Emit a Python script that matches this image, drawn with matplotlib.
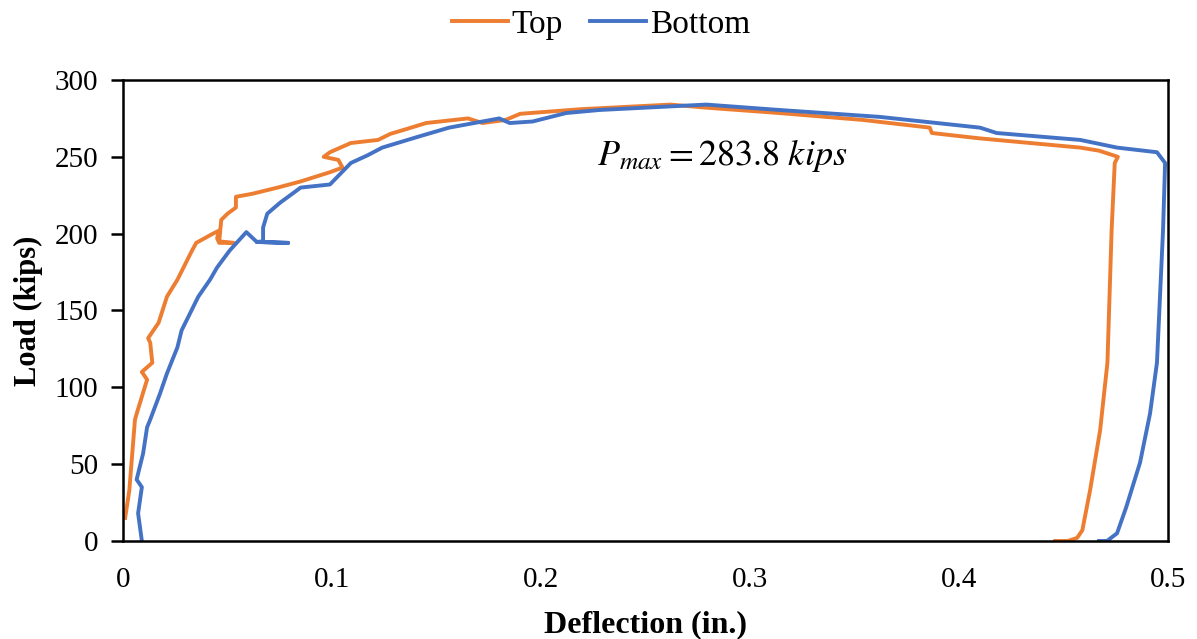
import matplotlib.pyplot as plt

plt.rcParams['font.family'] = ['Liberation Serif', 'DejaVu Serif']
plt.rcParams['mathtext.fontset'] = 'stix'

# Load-deflection traces (in., kips)
top_defl = [0.446, 0.452, 0.4565, 0.459, 0.4627, 0.4675, 0.471, 0.473, 0.4745, 0.476,
            0.467, 0.458, 0.442, 0.41, 0.387, 0.386, 0.354, 0.314, 0.299, 0.279,
            0.262, 0.219, 0.19, 0.183, 0.172, 0.165]
top_load = [0.0, 0.0, 2.0, 7.0, 33.0, 72.0, 116.0, 202.0, 246.0, 250.0,
            254.0, 256.0, 258.0, 262.0, 265.5, 269.0, 274.0, 278.5, 280.0, 282.0,
            284.0, 281.0, 278.0, 274.0, 272.0, 275.0]
# ascending branch of the top gauge (from the origin up to the end point above)
top_rise_defl = [0.001, 0.003, 0.0057, 0.007, 0.0115, 0.009, 0.014, 0.013, 0.012, 0.017,
                 0.021, 0.026, 0.033, 0.035, 0.043, 0.046, 0.045, 0.046, 0.053, 0.046,
                 0.047, 0.05, 0.054, 0.054, 0.062, 0.074, 0.085, 0.099, 0.105, 0.103,
                 0.096, 0.099, 0.109, 0.122, 0.128, 0.133, 0.145, 0.165]
top_rise_load = [15.0, 33.0, 79.0, 85.0, 105.0, 110.0, 116.0, 129.0, 132.0, 142.0,
                 159.0, 170.0, 189.0, 194.0, 200.0, 202.0, 197.0, 194.0, 194.0, 195.0,
                 209.0, 213.0, 217.0, 224.0, 226.0, 230.0, 234.0, 240.0, 243.0, 248.0,
                 250.0, 253.0, 259.0, 261.0, 265.0, 267.0, 272.0, 275.0]

bot_defl = [0.009, 0.0072, 0.009, 0.0065, 0.0096, 0.0115, 0.013, 0.0177, 0.021, 0.026,
            0.028, 0.032, 0.036, 0.0416, 0.045, 0.051, 0.059, 0.064, 0.079, 0.064,
            0.067, 0.067, 0.069, 0.075, 0.085, 0.099, 0.109, 0.117, 0.124, 0.141,
            0.156, 0.172, 0.180, 0.185, 0.196, 0.212, 0.228, 0.279, 0.314, 0.362,
            0.41, 0.418, 0.458, 0.4756, 0.4947, 0.4986, 0.4976, 0.4947, 0.4914, 0.4866,
            0.480, 0.4756, 0.4708, 0.467]
bot_load = [0.0, 18.0, 35.0, 40.0, 57.0, 74.0, 79.0, 96.0, 109.0, 126.0,
            137.0, 148.0, 159.0, 170.0, 178.0, 189.0, 201.0, 194.6, 194.0, 194.6,
            195.0, 204.0, 213.0, 220.0, 230.0, 232.0, 246.0, 251.0, 256.0, 263.0,
            269.0, 273.0, 275.0, 272.0, 273.0, 278.5, 280.5, 284.0, 280.5, 276.0,
            269.0, 265.5, 261.0, 256.0, 253.0, 246.0, 202.0, 116.0, 83.0, 51.0,
            22.0, 5.0, 0.0, 0.0]

ORANGE = '#ED7D31'
BLUE = '#4472C4'

fig = plt.figure(figsize=(11.97, 6.39), dpi=100)
ax = fig.add_axes([0.1028, 0.1534, 0.873, 0.7214])

ax.plot(top_rise_defl + top_defl[::-1], top_rise_load + top_load[::-1],
        color=ORANGE, lw=2.8, label='Top', solid_joinstyle='round')
ax.plot(bot_defl, bot_load, color=BLUE, lw=2.8, label='Bottom', solid_joinstyle='round')

ax.set_xlim(0, 0.5)
ax.set_ylim(0, 300)
ax.set_xticks([0, 0.1, 0.2, 0.3, 0.4, 0.5])
ax.set_xticklabels(['0', '0.1', '0.2', '0.3', '0.4', '0.5'])
ax.set_yticks(range(0, 301, 50))
ax.tick_params(axis='y', direction='out', length=9, width=1.8, labelsize=21, pad=9)
ax.tick_params(axis='x', length=0, labelsize=21, pad=19)
for sp in ax.spines.values():
    sp.set_linewidth(1.8)

ax.set_xlabel('Deflection (in.)', fontsize=23, fontweight='bold', labelpad=12)
ax.set_ylabel('Load (kips)', fontsize=22, fontweight='bold', labelpad=8)

ax.text(0.227, 251, r'$P_{max} = 283.8\ kips$', fontsize=26, va='center', ha='left')

fig.legend(loc='upper center', bbox_to_anchor=(0.502, 1.032), ncol=2, frameon=False,
           fontsize=24, handlelength=1.7, handletextpad=0.1, columnspacing=0.8)

fig.savefig('out.png', dpi=100)
